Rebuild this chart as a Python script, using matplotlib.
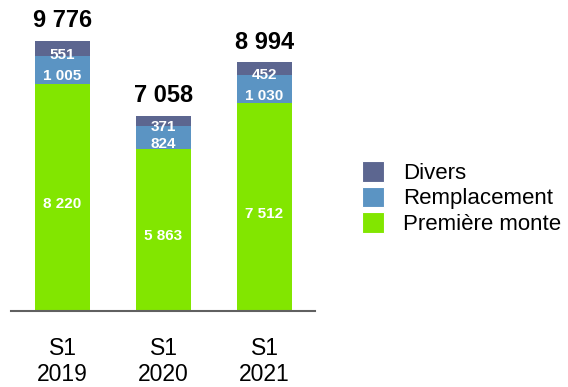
import matplotlib.pyplot as plt
from matplotlib.patches import Patch

plt.rcParams['font.family'] = ['Liberation Sans', 'DejaVu Sans']

periods = ['S1\n2019', 'S1\n2020', 'S1\n2021']
premiere_monte = [8220, 5863, 7512]
remplacement = [1005, 824, 1030]
divers = [551, 371, 452]
totals = [9776, 7058, 8994]

series_names = ['Première monte', 'Remplacement', 'Divers']
colors = ['#82e600', '#5b94c3', '#5c6690']


def fmt(v):
    return f'{v:,}'.replace(',', ' ')


fig = plt.figure(figsize=(5.68, 3.87), dpi=100)
ax = fig.add_axes([11 / 568, 76 / 387, 304 / 568, 304 / 387])

x = range(len(periods))
width = 0.545
bottom = [0, 0, 0]
for name, vals, col in zip(series_names, [premiere_monte, remplacement, divers], colors):
    ax.bar(x, vals, width, bottom=bottom, color=col, label=name)
    for xi, b, v in zip(x, bottom, vals):
        ax.annotate(fmt(v), (xi, b + v / 2), xytext=(0, -3.5), textcoords='offset points',
                    ha='center', va='center_baseline',
                    color='white', fontsize=11, fontweight='bold')
    bottom = [b + v for b, v in zip(bottom, vals)]

for xi, t in zip(x, totals):
    ax.annotate(fmt(t), (xi, t), xytext=(0, 10), textcoords='offset points',
                ha='center', va='baseline', fontsize=17, fontweight='bold')

ax.set_xlim(-0.51, 2.5)
ax.set_ylim(0, 11000)
ax.set_xticks(list(x))
ax.set_xticklabels(periods, fontsize=16.5, linespacing=1.15)
ax.tick_params(axis='x', length=0, pad=19)
ax.set_yticks([])
for s in ['left', 'right', 'top']:
    ax.spines[s].set_visible(False)
ax.spines['bottom'].set_color('#606060')
ax.spines['bottom'].set_linewidth(1.5)

handles = [Patch(facecolor=c, edgecolor='white', linewidth=0.8) for c in colors][::-1]
fig.legend(handles, series_names[::-1], loc='upper left',
           bbox_to_anchor=(362 / 568, 1 - 161 / 387), frameon=False,
           fontsize=16, handlelength=1.0, handleheight=1.05,
           handletextpad=0.85, labelspacing=0.12, borderpad=0, borderaxespad=0)

fig.savefig('out.png', dpi=100)
